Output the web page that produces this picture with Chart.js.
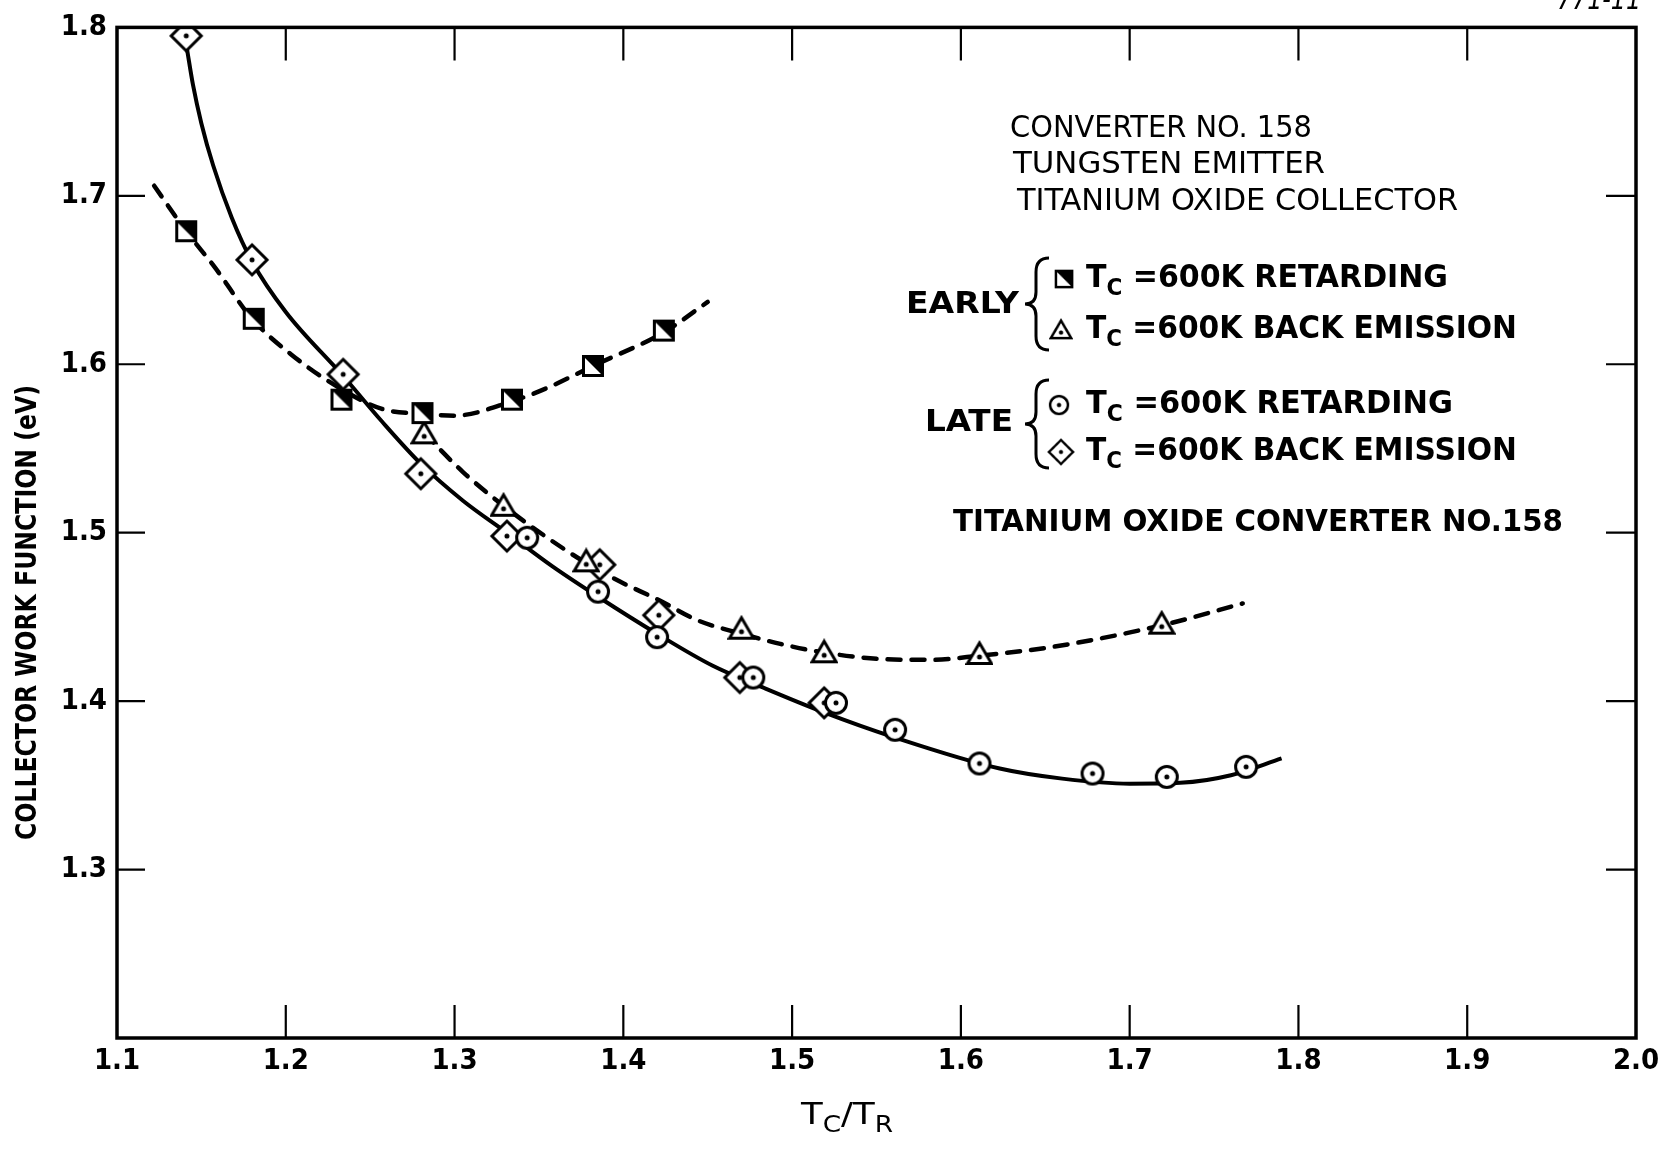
<!DOCTYPE html>
<html>
<head>
<meta charset="utf-8">
<title>Collector work function vs Tc/Tr</title>
<script src="https://cdn.jsdelivr.net/npm/chart.js@4.4.1/dist/chart.umd.min.js"></script>
<style>
	body { margin: 0; background: #ffffff; }
	canvas { display: block; }
</style>
</head>
<body>
<canvas id="chart" width="1669" height="1151"></canvas>
<script>
// axis ticks
var xTickValues = [1.1, 1.2, 1.3, 1.4, 1.5, 1.6, 1.7, 1.8, 1.9, 2.0];
var xTickLabels = ["1.1", "1.2", "1.3", "1.4", "1.5", "1.6", "1.7", "1.8", "1.9", "2.0"];
var yTickValues = [1.2, 1.3, 1.4, 1.5, 1.6, 1.7, 1.8];
var yTickLabels = ["", "1.3", "1.4", "1.5", "1.6", "1.7", "1.8"];

// measured points
var earlyRetX = [1.141, 1.181, 1.233, 1.281, 1.334, 1.382, 1.424];
var earlyRetY = [1.679, 1.627, 1.579, 1.571, 1.579, 1.599, 1.620];

var earlyBackX = [1.282, 1.329, 1.378, 1.470, 1.519, 1.611, 1.719];
var earlyBackY = [1.559, 1.516, 1.483, 1.443, 1.429, 1.428, 1.446];

var lateRetX = [1.343, 1.385, 1.420, 1.477, 1.526, 1.561, 1.611, 1.678, 1.722, 1.769];
var lateRetY = [1.497, 1.465, 1.438, 1.414, 1.399, 1.383, 1.363, 1.357, 1.355, 1.361];

var lateBackX = [1.141, 1.180, 1.234, 1.280, 1.331, 1.386, 1.421, 1.469, 1.519];
var lateBackY = [1.795, 1.662, 1.594, 1.535, 1.498, 1.481, 1.451, 1.414, 1.399];

// fitted curves
var earlyRetCurveX = [1.122, 1.141, 1.158, 1.180, 1.203, 1.230, 1.257, 1.282, 1.300, 1.334, 1.355, 1.382, 1.424, 1.450];
var earlyRetCurveY = [1.706, 1.679, 1.6575, 1.627, 1.606, 1.587, 1.5735, 1.5705, 1.5695, 1.578, 1.586, 1.599, 1.619, 1.637];

var earlyBackCurveX = [1.282, 1.305, 1.329, 1.355, 1.378, 1.398, 1.421, 1.444, 1.470, 1.493, 1.518, 1.553, 1.583, 1.611, 1.653, 1.719, 1.767];
var earlyBackCurveY = [1.559, 1.536, 1.516, 1.497, 1.482, 1.471, 1.460, 1.448, 1.440, 1.434, 1.429, 1.425, 1.4245, 1.427, 1.432, 1.445, 1.458];

var lateCurveX = [1.1415, 1.145, 1.150, 1.157, 1.168, 1.180, 1.200, 1.234, 1.257, 1.280, 1.305, 1.331, 1.358, 1.385, 1.420, 1.453, 1.483, 1.5185, 1.560, 1.623, 1.660, 1.700, 1.730, 1.760, 1.790];
var lateCurveY = [1.787, 1.766, 1.743, 1.718, 1.687, 1.661, 1.631, 1.593, 1.566, 1.541, 1.519, 1.500, 1.480, 1.462, 1.440, 1.421, 1.408, 1.3935, 1.3787, 1.360, 1.354, 1.351, 1.3515, 1.356, 1.366];

const FONT = '"DejaVu Sans Condensed", "Liberation Sans Narrow", "DejaVu Sans", sans-serif';

function pts(xs, ys) {
	return xs.map((x, i) => ({"x": x, "y": ys[i]}));
}

// small canvases used as point styles
function makeMarker(kind) {
	var c = document.createElement("canvas");
	var s = kind == "diamond" ? 36 : 28;
	c.width = s;
	c.height = s;
	var g = c.getContext("2d");
	var m = s / 2;
	g.lineWidth = 3;
	g.strokeStyle = "#000";
	g.fillStyle = "#fff";
	g.lineJoin = "miter";
	g.beginPath();
	if (kind == "diamond") {
		g.moveTo(m, 3); g.lineTo(s - 3, m); g.lineTo(m, s - 3); g.lineTo(3, m); g.closePath();
	} else if (kind == "circle") {
		g.arc(m, m, 10.5, 0, Math.PI * 2);
	} else if (kind == "triangle") {
		g.moveTo(m, 3); g.lineTo(m + 12, m + 9.5); g.lineTo(m - 12, m + 9.5); g.closePath();
	} else {
		g.rect(m - 9.5, m - 9.5, 19, 19);
	}
	g.fill();
	g.stroke();
	g.fillStyle = "#000";
	if (kind == "square") {
		g.beginPath();
		g.moveTo(m - 9.5, m - 9.5); g.lineTo(m + 9.5, m - 9.5); g.lineTo(m + 9.5, m + 9.5); g.closePath();
		g.fill();
	} else {
		g.beginPath();
		g.arc(m, kind == "triangle" ? m + 3 : m, 2.5, 0, Math.PI * 2);
		g.fill();
	}
	return c;
}

var markers = {
	"square": makeMarker("square"),
	"triangle": makeMarker("triangle"),
	"circle": makeMarker("circle"),
	"diamond": makeMarker("diamond"),
};

function curve(xs, ys, dashed) {
	return {
		"data": pts(xs, ys),
		"showLine": true,
		"borderColor": "#000",
		"borderWidth": dashed ? 4.5 : 4,
		"borderDash": dashed ? [13, 11] : [],
		"borderCapStyle": dashed ? "round" : "butt",
		"cubicInterpolationMode": "monotone",
		"pointRadius": 0,
		"order": 2,
	};
}

function scatter(xs, ys, kind) {
	return {
		"data": pts(xs, ys),
		"showLine": false,
		"pointStyle": markers[kind],
		"pointRadius": 12,
		"order": 1,
	};
}

// draw text squeezed to a given width, vertically centred on cy
function fitText(ctx, text, left, cy, width, font) {
	ctx.font = font;
	var w = ctx.measureText(text).width;
	ctx.save();
	ctx.translate(left, cy);
	ctx.scale(width / w, 1);
	ctx.textAlign = "left";
	ctx.textBaseline = "middle";
	ctx.fillText(text, 0, 0);
	ctx.restore();
}

// runs of [text, size, dy], squeezed to width
function fitRuns(ctx, runs, left, cy, width, weight) {
	var total = 0;
	runs.forEach(function (r) {
		ctx.font = weight + " " + r[1] + "px " + FONT;
		total += ctx.measureText(r[0]).width;
	});
	ctx.save();
	ctx.translate(left, cy);
	ctx.scale(width / total, 1);
	ctx.textAlign = "left";
	ctx.textBaseline = "middle";
	var x = 0;
	runs.forEach(function (r) {
		ctx.font = weight + " " + r[1] + "px " + FONT;
		ctx.fillText(r[0], x, r[2]);
		x += ctx.measureText(r[0]).width;
	});
	ctx.restore();
}

function brace(ctx, top, bot) {
	var mid = (top + bot) / 2, xr = 1049, xm = 1036, xl = 1025;
	ctx.save();
	ctx.lineWidth = 3;
	ctx.strokeStyle = "#000";
	ctx.beginPath();
	ctx.moveTo(xr, top);
	ctx.quadraticCurveTo(xm, top, xm, top + 14);
	ctx.lineTo(xm, mid - 12);
	ctx.quadraticCurveTo(xm, mid, xl, mid);
	ctx.quadraticCurveTo(xm, mid, xm, mid + 12);
	ctx.lineTo(xm, bot - 14);
	ctx.quadraticCurveTo(xm, bot, xr, bot);
	ctx.stroke();
	ctx.restore();
}

// frame with inward ticks on all four sides
var framePlugin = {
	"id": "frame",
	afterDatasetsDraw(chart) {
		var ctx = chart.ctx;
		var a = chart.chartArea;
		var xs = chart.scales.x, ys = chart.scales.y;
		ctx.save();
		ctx.strokeStyle = "#000";
		ctx.lineWidth = 3.5;
		ctx.strokeRect(a.left, a.top, a.right - a.left, a.bottom - a.top);
		ctx.lineWidth = 2.2;
		ctx.beginPath();
		xTickValues.slice(1, -1).forEach(function (v) {
			var px = xs.getPixelForValue(v);
			ctx.moveTo(px, a.bottom); ctx.lineTo(px, a.bottom - 33);
			ctx.moveTo(px, a.top); ctx.lineTo(px, a.top + 33);
		});
		yTickValues.slice(1, -1).forEach(function (v) {
			var py = ys.getPixelForValue(v);
			ctx.moveTo(a.left, py); ctx.lineTo(a.left + 28, py);
			ctx.moveTo(a.right, py); ctx.lineTo(a.right - 30, py);
		});
		ctx.stroke();
		ctx.restore();
	},
};

var notesPlugin = {
	"id": "notes",
	afterDraw(chart) {
		var ctx = chart.ctx;
		ctx.save();
		ctx.fillStyle = "#000";

		// axis titles
		ctx.save();
		ctx.translate(29, 613);
		ctx.rotate(-Math.PI / 2);
		fitText(ctx, "COLLECTOR WORK FUNCTION (eV)", -227, 0, 455, "bold 28px " + FONT);
		ctx.restore();
		fitRuns(ctx, [["T", 31, 0], ["C", 23, 10], ["/", 31, 0], ["T", 31, 0], ["R", 23, 10]], 801, 1116, 92, "500");

		// figure number, clipped at the page edge
		fitText(ctx, "771-11", 1557, 1, 84, "italic 30px " + FONT);

		// description block
		fitText(ctx, "CONVERTER NO. 158", 1010, 129, 302, "500 30px " + FONT);
		fitText(ctx, "TUNGSTEN EMITTER", 1013, 165, 312, "500 30px " + FONT);
		fitText(ctx, "TITANIUM OXIDE COLLECTOR", 1017, 202, 441, "500 30px " + FONT);

		fitText(ctx, "EARLY", 906, 305, 113, "bold 30px " + FONT);
		fitText(ctx, "LATE", 925, 423, 88, "bold 30px " + FONT);
		brace(ctx, 258, 350);
		brace(ctx, 380, 468);

		var rows = [
			["square", 1064, 279, " =600K RETARDING", 362],
			["triangle", 1061, 330, " =600K BACK EMISSION", 431],
			["circle", 1059, 405, " =600K RETARDING", 367],
			["diamond", 1061, 452, " =600K BACK EMISSION", 431],
		];
		rows.forEach(function (r) {
			var img = markers[r[0]];
			var scale = r[0] == "diamond" ? 0.8 : 0.85;
			var w = img.width * scale, h = img.height * scale;
			ctx.drawImage(img, r[1] - w / 2, r[2] - h / 2, w, h);
			fitRuns(ctx, [["T", 32, 0], ["C", 23, 10], [r[3], 32, 0]], 1086, r[2], r[4], "bold");
		});

		fitText(ctx, "TITANIUM OXIDE CONVERTER NO.158", 953, 523, 610, "bold 31px " + FONT);
		ctx.restore();
	},
};

new Chart(document.getElementById("chart"), {
	"type": "scatter",
	"data": {
		"datasets": [
			curve(lateCurveX, lateCurveY, false),
			curve(earlyRetCurveX, earlyRetCurveY, true),
			curve(earlyBackCurveX, earlyBackCurveY, true),
			scatter(earlyRetX, earlyRetY, "square"),
			scatter(earlyBackX, earlyBackY, "triangle"),
			scatter(lateRetX, lateRetY, "circle"),
			scatter(lateBackX, lateBackY, "diamond"),
		],
	},
	"options": {
		"responsive": false,
		"animation": false,
		"events": [],
		"layout": {"padding": {"top": 27, "right": 33, "left": 0, "bottom": 0}},
		"plugins": {
			"legend": {"display": false},
			"tooltip": {"enabled": false},
		},
		"scales": {
			"x": {
				"type": "linear",
				"min": 1.1,
				"max": 2.0,
				"grid": {"display": false, "drawTicks": false},
				"border": {"display": false},
				"afterBuildTicks": (scale) => { scale.ticks = xTickValues.map((v) => ({"value": v})); },
				"afterFit": (scale) => { scale.height = 113; },
				"ticks": {
					"color": "#000",
					"padding": 6,
					"maxRotation": 0,
					"autoSkip": false,
					"font": {"family": FONT, "size": 29, "weight": "bold"},
					"callback": (value, index) => xTickLabels[index],
				},
			},
			"y": {
				"type": "linear",
				"min": 1.2,
				"max": 1.8,
				"grid": {"display": false, "drawTicks": false},
				"border": {"display": false},
				"afterBuildTicks": (scale) => { scale.ticks = yTickValues.map((v) => ({"value": v})); },
				"afterFit": (scale) => { scale.width = 117; },
				"ticks": {
					"color": "#000",
					"padding": 10,
					"autoSkip": false,
					"font": {"family": FONT, "size": 29, "weight": "bold"},
					"callback": (value, index) => yTickLabels[index],
				},
			},
		},
	},
	"plugins": [framePlugin, notesPlugin],
});
</script>
</body>
</html>
